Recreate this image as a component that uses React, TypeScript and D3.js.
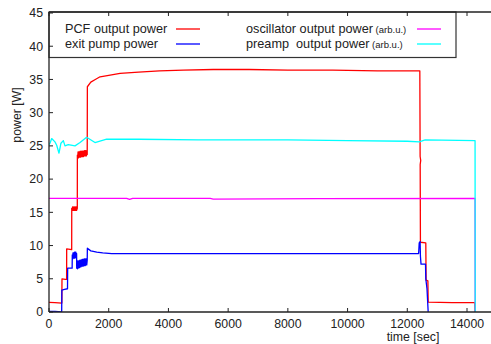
import React from "react";
import * as d3 from "d3";

// time [sec] / power [W] pairs
const pcfPower: [number, number][] = [
  [0, 1.45], [200, 1.4], [430, 1.35], [435, 5.0], [550, 4.9], [590, 4.9], [592, 9.5], [760, 9.4],
  [762, 15.6], [775, 15.3], [790, 15.8], [805, 15.3], [820, 15.8], [835, 15.3], [850, 15.8],
  [865, 15.3], [880, 15.8], [895, 15.3], [910, 15.8], [925, 15.3], [948, 15.6],
  [950, 23.6], [962, 23.2], [974, 24.1], [986, 23.2], [998, 24.1], [1010, 23.3], [1022, 24.1],
  [1034, 23.3], [1046, 24.2], [1058, 23.3], [1070, 24.1], [1082, 23.4], [1094, 24.2],
  [1106, 23.4], [1118, 24.2], [1130, 23.4], [1142, 24.2], [1154, 23.4], [1166, 24.2],
  [1178, 23.5], [1190, 24.3], [1202, 23.5], [1214, 24.3], [1226, 23.5], [1238, 24.3],
  [1250, 23.5], [1262, 24.3], [1280, 23.7],
  [1285, 33.9], [1400, 34.6], [1550, 35.0], [1710, 35.4],
  [2000, 35.6], [2380, 35.9], [3000, 36.1], [3700, 36.3], [4500, 36.4], [5500, 36.5], [6700, 36.5],
  [8000, 36.4], [9500, 36.4], [11000, 36.3], [12420, 36.3], [12430, 23.4], [12450, 22.8],
  [12432, 22.2], [12440, 10.5], [12620, 10.4], [12630, 4.8], [12690, 4.7], [12700, 1.5],
  [13500, 1.4], [14260, 1.4], [14270, 0],
];
const exitPump: [number, number][] = [
  [0, 0.1], [200, 0.1], [425, 0], [430, 3.3], [520, 3.4], [620, 3.5], [625, 6.6], [775, 6.6],
  [780, 8.6], [792, 8.0], [804, 8.9], [816, 8.1], [828, 8.9], [840, 8.1], [852, 9.0], [864, 8.1],
  [876, 9.0], [888, 8.2], [900, 9.0], [912, 8.2], [925, 8.8],
  [928, 6.6], [940, 7.6], [952, 6.5], [964, 7.7], [976, 6.6], [988, 7.7], [1000, 6.7],
  [1012, 7.7], [1024, 6.7], [1036, 7.8], [1048, 6.8], [1060, 7.8], [1072, 6.8], [1084, 7.8],
  [1096, 6.9], [1108, 7.9], [1120, 6.9], [1132, 7.9], [1144, 6.9], [1156, 7.9], [1168, 7.0],
  [1180, 8.0], [1192, 7.0], [1204, 8.0], [1216, 7.0], [1228, 8.0], [1240, 7.1], [1252, 8.0],
  [1264, 7.1], [1280, 7.8],
  [1285, 9.6], [1400, 9.2], [1600, 9.0], [1800, 8.9], [2100, 8.8], [4000, 8.8],
  [6000, 8.8], [8000, 8.8], [10000, 8.8], [12380, 8.8], [12400, 10.4], [12430, 10.6],
  [12440, 8.4], [12460, 7.2], [12610, 7.2], [12620, 5.0], [12660, 3.5], [12700, 0],
];
const oscillator: [number, number][] = [
  [0, 17.1], [2600, 17.1], [2700, 16.95], [2800, 17.1], [5400, 17.1], [5500, 17.0],
  [9000, 17.05], [14270, 17.1], [14275, 0],
];
const preamp: [number, number][] = [
  [0, 25.2], [33, 25.4], [90, 26.1], [200, 25.6], [258, 25.1], [335, 23.9], [400, 25.4],
  [480, 25.8], [535, 25.0], [645, 25.2], [870, 25.0], [1040, 25.5], [1260, 26.3], [1540, 25.5],
  [1930, 26.0], [3000, 26.0], [5000, 25.9], [8000, 25.9], [10000, 25.8], [12000, 25.7],
  [12400, 25.6], [12600, 25.9], [14270, 25.8], [14275, 0],
];

const xTicks = [0, 2000, 4000, 6000, 8000, 10000, 12000, 14000];
const yTicks = [0, 5, 10, 15, 20, 25, 30, 35, 40, 45];

const series = [
  { name: "PCF output power", note: "", color: "#ff0000", data: pcfPower },
  { name: "exit pump power", note: "", color: "#0000ff", data: exitPump },
  { name: "oscillator output power", note: "(arb.u.)", color: "#ff00ff", data: oscillator },
  { name: "preamp  output power", note: "(arb.u.)", color: "#00ffff", data: preamp },
];

export default function App() {
  const W = 491, H = 344;
  const left = 49, top = 12, bottom = 312;

  const x = d3.scaleLinear().domain([0, 15000]).range([left, left + 15000 * (418 / 14000)]);
  const y = d3.scaleLinear().domain([0, 45]).range([bottom, 13]);
  const line = d3.line<[number, number]>().x(d => x(d[0])).y(d => y(d[1]));

  const font = "'Liberation Sans', Arial, Helvetica, sans-serif";
  const legendRows = [
    { col: 0, row: 0 }, { col: 0, row: 1 }, { col: 1, row: 0 }, { col: 1, row: 1 },
  ];

  return (
    <svg width={W} height={H} style={{ position: "absolute", left: 0, top: 0 }} fontFamily={font}>
      <rect width={W} height={H} fill="#fff" />
      <defs>
        <clipPath id="plot">
          <rect x={left} y={top} width={W - left} height={bottom - top} />
        </clipPath>
      </defs>

      <g clipPath="url(#plot)" fill="none" strokeWidth={1.3} strokeLinejoin="round">
        {series.map(s => (
          <path key={s.name} d={line(s.data) ?? ""} stroke={s.color} />
        ))}
      </g>

      {/* legend */}
      <rect x={left} y={top} width={456 - left} height={57.5 - top} fill="#fff" stroke="#333" strokeWidth={1.2} />
      {series.map((s, i) => {
        const { col, row } = legendRows[i];
        const base = 33 + row * 15;
        const tx = col === 0 ? 65 : 246;
        const lx = col === 0 ? 176 : 417;
        return (
          <g key={s.name}>
            <text x={tx} y={base} fontSize={12.7} fill="#222" style={{ whiteSpace: "pre" }}>
              {s.name}
              {s.note && <tspan fontSize={9.5}>{" " + s.note}</tspan>}
            </text>
            <line x1={lx} x2={lx + 24} y1={base - 4} y2={base - 4} stroke={s.color} strokeWidth={1.3} />
          </g>
        );
      })}

      {/* frame */}
      <g stroke="#222" strokeWidth={1.3}>
        <line x1={left} x2={W} y1={top} y2={top} />
        <line x1={left} x2={W} y1={bottom} y2={bottom} />
        <line x1={left} x2={left} y1={top} y2={bottom} />
      </g>

      {/* ticks */}
      <g stroke="#222" strokeWidth={1}>
        {xTicks.map(t => (
          <g key={t}>
            <line x1={x(t)} x2={x(t)} y1={bottom} y2={bottom - 4} />
            <line x1={x(t)} x2={x(t)} y1={top} y2={top + 4} />
          </g>
        ))}
        {yTicks.map(t => (
          <line key={t} x1={left} x2={left + 4} y1={y(t)} y2={y(t)} />
        ))}
      </g>
      <g fontSize={12.3} fill="#222">
        {xTicks.map(t => (
          <text key={t} x={x(t)} y={328} textAnchor="middle">{t}</text>
        ))}
        {yTicks.map(t => (
          <text key={t} x={43} y={y(t) + 4.3} textAnchor="end">{t}</text>
        ))}
        <text x={413} y={341} textAnchor="middle">time [sec]</text>
        <text transform="translate(21,115) rotate(-90)" textAnchor="middle">power [W]</text>
      </g>
    </svg>
  );
}
